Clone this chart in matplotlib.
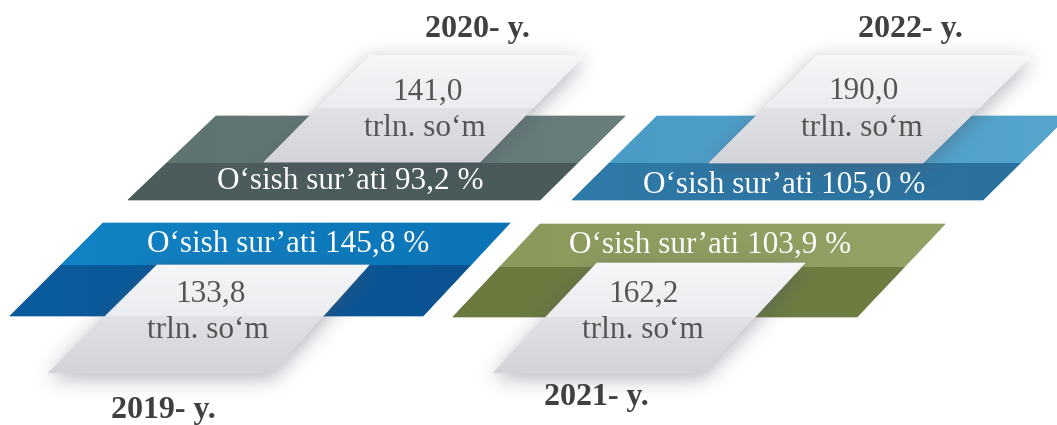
import numpy as np
import matplotlib
matplotlib.use('Agg')
import matplotlib.pyplot as plt
from matplotlib.path import Path
from matplotlib.patches import Polygon
from matplotlib.colors import to_rgb

# ---- data ----
years = ['2019- y.', '2020- y.', '2021- y.', '2022- y.']
volumes = [133.8, 141.0, 162.2, 190.0]
growth = [145.8, 93.2, 103.9, 105.0]
unit = 'trln. so‘m'
growth_prefix = 'O‘sish sur’ati'

# ---- layout (pixel coords, y downwards) ----
W, H = 1057, 425
layout = [
    dict(band=[(103, 223), (510, 223), (423, 316), (10, 316)], band_split=265,
         light=[(157, 265), (369, 265), (272, 373), (48, 373)], light_split=316,
         c_up=('#1283c4', '#0b74b6'), c_lo=('#0a5c9e', '#0a5292'),
         growth_xy=(288, 252), val_xy=(210, 302), unit_xy=(208, 338), year_xy=(163, 418)),
    dict(band=[(216, 116), (625, 116), (540, 200), (128, 200)], band_split=163,
         light=[(370, 55), (585, 55), (480, 162), (264, 162)], light_split=108,
         c_up=('#5f7371', '#6a7e7c'), c_lo=('#4d5d5d', '#4a5a5a'),
         growth_xy=(350, 189), val_xy=(427, 100), unit_xy=(425, 136), year_xy=(477, 37)),
    dict(band=[(540, 224), (945, 224), (857, 317), (453, 317)], band_split=267,
         light=[(597, 263), (805, 263), (703, 373), (493, 373)], light_split=317,
         c_up=('#8a9a5c', '#93a365'), c_lo=('#6a7a3f', '#6e7e42'),
         growth_xy=(710, 253), val_xy=(643, 302), unit_xy=(643, 338), year_xy=(596, 405)),
    dict(band=[(657, 116), (1068, 116), (983, 200), (572, 200)], band_split=163,
         light=[(817, 55), (1033, 55), (923, 163), (709, 163)], light_split=108,
         c_up=('#4a9cc7', '#55a5cd'), c_lo=('#2f7aa8', '#2b719d'),
         growth_xy=(784, 193), val_xy=(863, 99), unit_xy=(862, 136), year_xy=(910, 37)),
]

fig = plt.figure(figsize=(W / 100, H / 100), dpi=100)
ax = fig.add_axes([0, 0, 1, 1])
ax.set_xlim(0, W)
ax.set_ylim(H, 0)
ax.axis('off')
fig.patch.set_facecolor('white')


def cut(quad, y0, y1):
    (tlx, tly), (trx, try_), (brx, bry), (blx, bly) = quad

    def lx(y):
        return tlx + (blx - tlx) * (y - tly) / (bly - tly)

    def rx(y):
        return trx + (brx - trx) * (y - try_) / (bry - try_)
    return [(lx(y0), y0), (rx(y0), y0), (rx(y1), y1), (lx(y1), y1)]


def grad_fill(verts, c_a, c_b, z, horiz=False):
    ca = np.array(to_rgb(c_a)); cb = np.array(to_rgb(c_b))
    mid = (ca + cb) / 2
    ax.add_patch(Polygon(verts, closed=True, facecolor=mid, edgecolor=mid,
                         lw=0.5, zorder=z))
    poly = Polygon(verts, closed=True, facecolor='none', edgecolor='none')
    ax.add_patch(poly)
    xs = [v[0] for v in verts]; ys = [v[1] for v in verts]
    t = np.linspace(0, 1, 64)
    cols = ca[None, :] * (1 - t[:, None]) + cb[None, :] * t[:, None]
    img = cols[None, :, :] if horiz else cols[:, None, :]
    im = ax.imshow(img, extent=(min(xs), max(xs), max(ys), min(ys)),
                   origin='upper', aspect='auto', zorder=z + 0.1,
                   interpolation='bilinear')
    im.set_clip_path(poly)


# bands
for L in layout:
    b = L['band']
    top = b[0][1]; bot = b[2][1]
    grad_fill(cut(b, top, L['band_split']), L['c_up'][0], L['c_up'][1], 1, horiz=True)
    grad_fill(cut(b, L['band_split'], bot), L['c_lo'][0], L['c_lo'][1], 1, horiz=True)

# soft shadow around light panels
yy, xx = np.mgrid[0:H, 0:W]
pts = np.column_stack([xx.ravel() + 0.5, yy.ravel() + 0.5])
mask = np.zeros(H * W)
for L in layout:
    mask = np.maximum(mask, Path(L['light']).contains_points(pts).astype(float))
mask = mask.reshape(H, W)


def blur(a, s):
    r = int(3 * s)
    k = np.exp(-0.5 * (np.arange(-r, r + 1) / s) ** 2)
    k /= k.sum()
    a = np.apply_along_axis(lambda m: np.convolve(m, k, mode='same'), 1, a)
    a = np.apply_along_axis(lambda m: np.convolve(m, k, mode='same'), 0, a)
    return a


sh = blur(mask, 10)
sh = np.roll(sh, 5, axis=0)
shimg = np.zeros((H, W, 4))
shimg[..., 0] = 0.30; shimg[..., 1] = 0.33; shimg[..., 2] = 0.40
shimg[..., 3] = np.clip(sh * 0.45, 0, 1)
ax.imshow(shimg, extent=(0, W, H, 0), origin='upper', aspect='auto', zorder=2)

# light panels
for L in layout:
    q = L['light']
    top = q[0][1]; bot = q[2][1]
    grad_fill(cut(q, top, L['light_split']), '#f5f6f8', '#eaecef', 3)
    grad_fill(cut(q, L['light_split'], bot), '#e0e2e6', '#d2d4d9', 3)

ax.set_xlim(0, W)
ax.set_ylim(H, 0)

serif = ['Liberation Serif', 'DejaVu Serif']
for i, L in enumerate(layout):
    ax.text(*L['growth_xy'], f"{growth_prefix} {growth[i]:.1f}".replace('.', ',') + ' %',
            ha='center', va='baseline', fontsize=22.5, color='white',
            family=serif, zorder=5)
    ax.text(*L['val_xy'], f"{volumes[i]:.1f}".replace('.', ','),
            ha='center', va='baseline', fontsize=22.5, color='#555555',
            family=serif, zorder=5)
    ax.text(*L['unit_xy'], unit, ha='center', va='baseline', fontsize=22.5,
            color='#555555', family=serif, zorder=5)
    ax.text(*L['year_xy'], years[i], ha='center', va='baseline', fontsize=23,
            fontweight='bold', color='#404040', family=serif, zorder=5)

fig.savefig('out.png', dpi=100, facecolor='white')
